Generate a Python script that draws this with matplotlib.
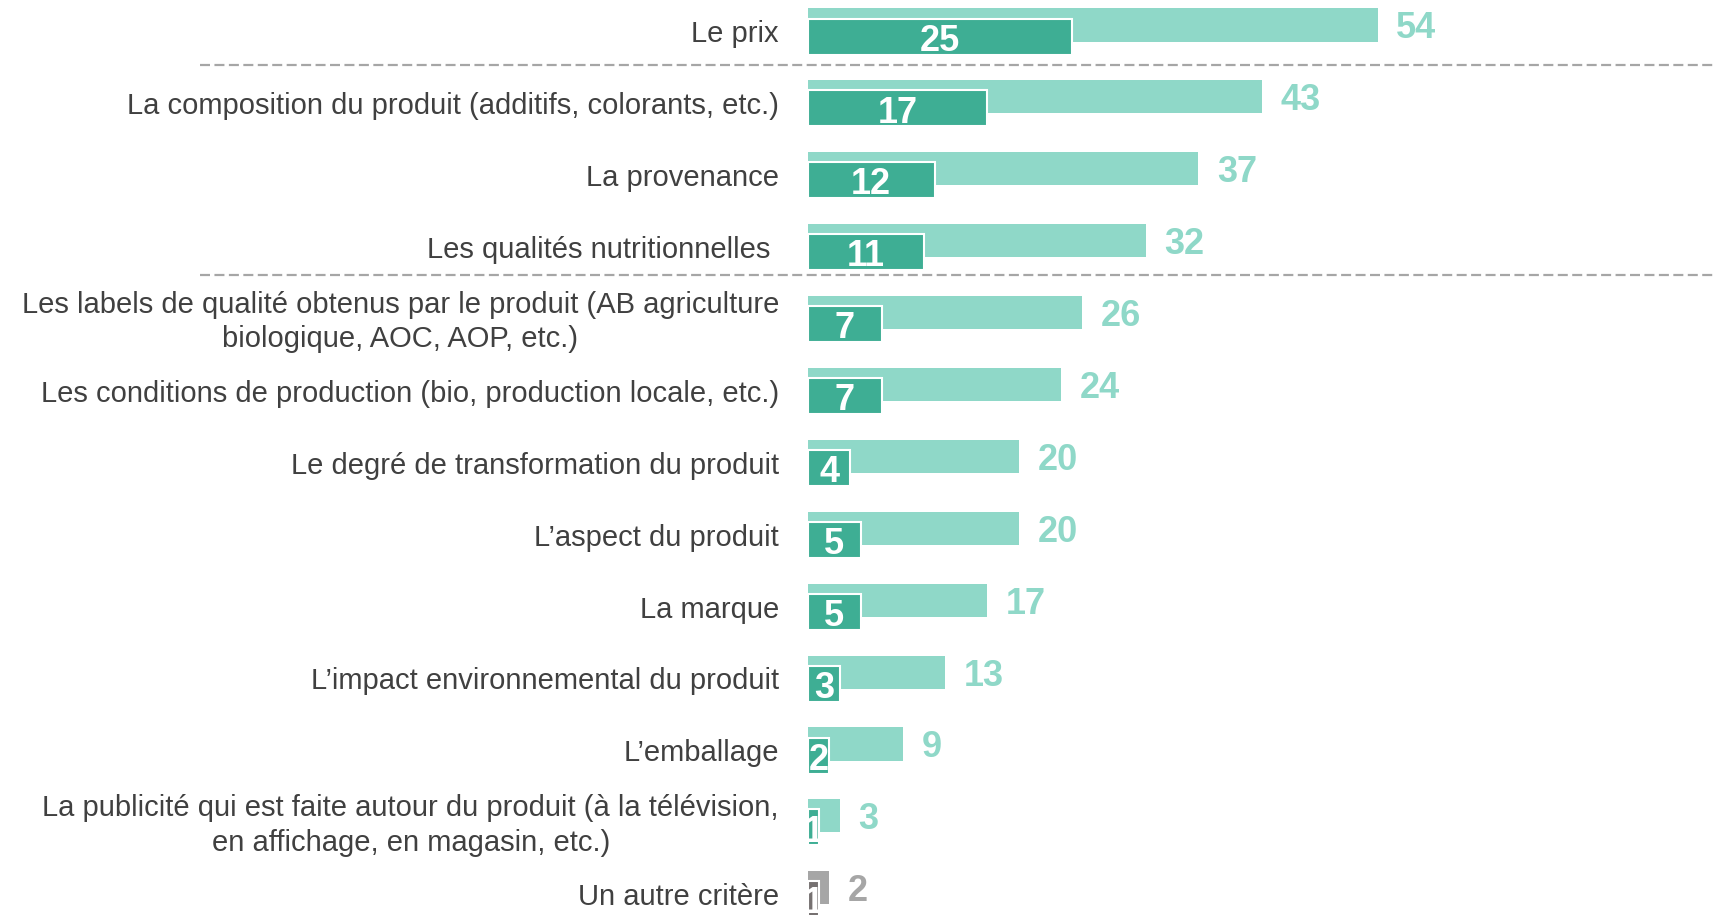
import matplotlib
matplotlib.use("Agg")
import matplotlib.pyplot as plt
import matplotlib.transforms as mtransforms

plt.rcParams["font.family"] = ["Liberation Sans", "DejaVu Sans"]

CATEGORIES = [
    "Le prix",
    "La composition du produit (additifs, colorants, etc.)",
    "La provenance",
    "Les qualités nutritionnelles ",
    "Les labels de qualité obtenus par le produit (AB agriculture\nbiologique, AOC, AOP, etc.)",
    "Les conditions de production (bio, production locale, etc.)",
    "Le degré de transformation du produit",
    "L\u2019aspect du produit",
    "La marque",
    "L\u2019impact environnemental du produit",
    "L\u2019emballage",
    "La publicité qui est faite autour du produit (à la télévision,\nen affichage, en magasin, etc.)",
    "Un autre critère",
]
TOTAL = [54, 43, 37, 32, 26, 24, 20, 20, 17, 13, 9, 3, 2]
FIRST = [25, 17, 12, 11, 7, 7, 4, 5, 5, 3, 2, 1, 1]

LIGHT = "#8fd8c8"
DARK = "#3eae94"
LIGHT_GREY = "#a6a6a6"
DARK_GREY = "#767171"
TEXT = "#404040"

W, H, DPI = 1716, 915, 100
AX_LEFT_PX = 808

fig = plt.figure(figsize=(W / DPI, H / DPI), dpi=DPI)
ax = fig.add_axes([AX_LEFT_PX / W, 0, 1 - AX_LEFT_PX / W, 1])
ax.set_xlim(0, (W - AX_LEFT_PX) / 10.55)
ax.set_ylim(12.378, -0.348)
ax.axis("off")

n = len(CATEGORIES)
light_colors = [LIGHT] * (n - 1) + [LIGHT_GREY]
dark_colors = [DARK] * (n - 1) + [DARK_GREY]
rows = list(range(n))
dark_rows = [r + 0.16 for r in rows]

ax.barh(rows, TOTAL, height=0.46, color=light_colors, zorder=2)
ax.barh(dark_rows, FIRST, height=0.5, color=dark_colors,
        edgecolor="white", linewidth=1.5, zorder=3)

for i in rows:
    ax.text(TOTAL[i] + 1.75, i + 0.055, str(TOTAL[i]), ha="left", va="center",
            fontsize=26, fontweight="bold", color=light_colors[i], zorder=4)
    ax.text(FIRST[i] / 2, dark_rows[i] + 0.065, str(FIRST[i]), ha="center",
            va="center", fontsize=26, fontweight="bold", color="white", zorder=4)
    ax.text(-2.75, i + 0.13, CATEGORIES[i], ha="right", va="center",
            multialignment="center", linespacing=1.3, fontsize=21,
            color=TEXT, clip_on=False)

trans = mtransforms.blended_transform_factory(fig.transFigure, ax.transData)
sep_y = [0.556, 3.477]
for y in sep_y:
    ax.plot([200 / W, 1.0], [y, y], transform=trans, color="#a6a6a6",
            linewidth=1.6, linestyle=(0, (4.5, 2)), clip_on=False, zorder=1)

fig.savefig("out.png", dpi=DPI)
